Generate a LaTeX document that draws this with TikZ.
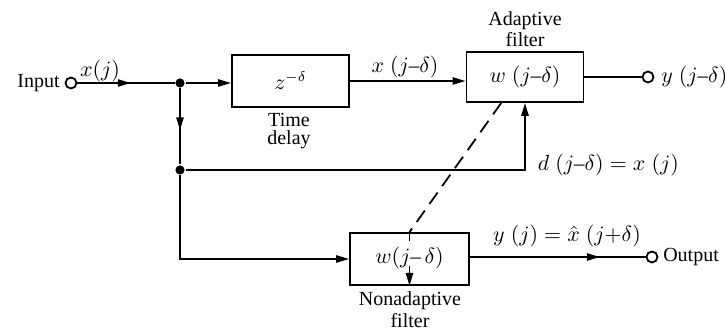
\documentclass[tikz,border=0pt]{standalone}
\usepackage{fontspec}
\setmainfont{Liberation Serif}
\usetikzlibrary{arrows.meta,positioning,calc,decorations.markings}
\newcommand{\jdash}{\textrm{--}}

\begin{document}
\begin{tikzpicture}[
    x=0.5pt,y=-0.5pt,line width=0.9pt,
    blk/.style={draw,rectangle,inner sep=0pt,minimum width=58.5pt,minimum height=26pt},
    port/.style={circle,draw,fill=white,inner sep=0pt,minimum size=5.5pt},
    jdot/.style={circle,fill,inner sep=0pt,minimum size=4.6pt},
    tip/.style={-{Triangle[length=6.5pt,width=3.6pt]}},
    midtip/.style={postaction={decorate},decoration={markings,
        mark=at position #1 with {\arrow{Triangle[length=6.5pt,width=3.6pt]}}}},
    midtip/.default=0.55,
    twoline/.style={align=center,inner sep=0pt,font=\fontsize{10}{#1}\selectfont},
    mlbl/.style={inner sep=0pt,font=\fontsize{10.5}{12}\selectfont},
  ]
  \useasboundingbox (0,0) rectangle (725,331);
  \node[port] (in) at (71,83) {};
  \node[left=2pt of in,inner sep=0pt] (inlbl) {Input};
  \foreach \n/\y in {j1/83,j2/170} {
    \node[jdot] (\n) at (180,\y) {};
  }
  \node[blk,mlbl] (dly) at (290.5,81) {$z^{-\delta}$};
  \node[blk,mlbl,minimum height=25pt] (ad) at (525,77) {$w\;(j\jdash\delta)$};
  \node[blk,minimum width=59.5pt] (na) at (409.5,259) {};
  \node[mlbl] (natxt) at (409.5,258) {$w(j\jdash\,\delta)$};
  \node[port] (out1) at (648,77) {};
  \node[port] (out2) at (652,257) {};

  \draw[midtip] (in) -- (j1);
  \draw[tip] (j1) -- (dly.west |- j1);
  \draw[tip] (dly.east) -- (ad.west |- dly.east);
  \draw (ad.east |- out1) -- (out1);
  \draw[midtip] (j1) -- (j2);
  \draw[tip] (j2) -| (ad.south);
  \draw[tip] (j2) |- (na.west);
  \draw[midtip=0.74] (na.east |- out2) -- (out2);
  \draw[dash pattern=on 7pt off 4pt] ($(ad.south west)!0.3!(ad.south east)$) -- (na.north);
  \draw (na.north) -- ++(0,9);
  \draw[tip] ($(na.center)+(0,7)$) -- (na.south);

  \node[mlbl] (xj) at (100,71) {$x(j)$};
  \node[twoline=9pt] (dlylbl) at (289,131) {Time\\delay};
  \node[mlbl] (xd) at (405,67) {$x\;(j\jdash\delta)$};
  \node[twoline=10.5pt] (adlbl) at (525,29) {Adaptive\\filter};
  \node[mlbl,right=3pt of out1] (ylbl) {$y\;(j\jdash\delta)$};
  \node[mlbl,anchor=west] (dlbl) at (537,165) {$d\;(j\jdash\delta) = x\;(j)$};
  \node[twoline=11pt] (nalbl) at (410,310) {Nonadaptive\\filter};
  \node[mlbl] (yhat) at (567,236) {$y\;(j) = \hat{x}\;(j{+}\delta)$};
  \node[right=2pt of out2,inner sep=0pt] (outlbl) {Output};
\end{tikzpicture}
\end{document}
